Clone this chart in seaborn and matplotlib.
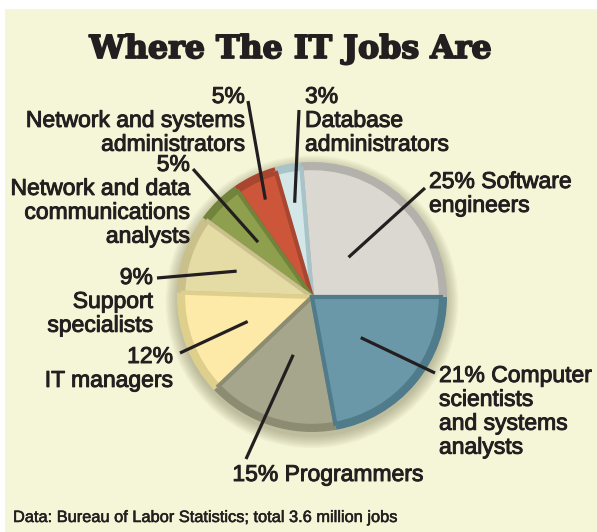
import numpy as np
import matplotlib.pyplot as plt
import matplotlib.patheffects as pe
from matplotlib.patches import Circle, Rectangle
import seaborn as sns

# shares of the 3.6 million IT jobs, counter-clockwise from 3 o'clock
jobs = ["Software engineers", "Database administrators",
        "Network and systems administrators",
        "Network and data communications analysts", "Support specialists",
        "IT managers", "Programmers", "Computer scientists and systems analysts"]
shares = [25, 3, 5, 5, 9, 12, 15, 21]
labels = ["25% Software\nengineers",
          "3%\nDatabase\nadministrators",
          "5%\nNetwork and systems\nadministrators",
          "5%\nNetwork and data\ncommunications\nanalysts",
          "9%\nSupport\nspecialists",
          "12%\nIT managers",
          "15% Programmers",
          "21% Computer\nscientists\nand systems\nanalysts"]
title = "Where The IT Jobs Are"
source = "Data: Bureau of Labor Statistics; total 3.6 million jobs"

face = ['#dbd8d1', '#d3e6e8', '#cd553a', '#8ea04e',
        '#e4dba5', '#fdeaa8', '#a5a68b', '#6b98a8']
edge = ['#b3b1ab', '#a9c4c8', '#a9462f', '#72843c',
        '#c9c08c', '#ded08c', '#8b8c72', '#4f7b8a']
bg = '#f5f6d7'
ink = '#231f20'

W, H = 597, 532
CX, CY, R = 312, 297, 135


def px(x, y):
    return (x - CX) / R, (CY - y) / R


# label layout (picture pixels): text anchor, alignment, leader start, leader depth
lab_xy = [(429, 170), (305, 85), (245, 85), (190, 153),
          (153, 266), (173, 345), (328, 463), (439, 364)]
lab_ha = ['left', 'left', 'right', 'right', 'right', 'right', 'center', 'left']
tip_xy = [(425, 188), (299, 110), (248, 101), (193, 169),
          (157, 278), (180, 353), (246, 459), (435, 373)]
tip_r = [0.40, 0.71, 0.80, 0.57, 0.59, 0.51, 0.45, 0.47]

sns.set_theme(style='white')
plt.rcParams['font.family'] = ['Liberation Sans', 'DejaVu Sans']

fig = plt.figure(figsize=(W / 100, H / 100), dpi=100)
fig.patch.set_facecolor('white')
fig.patches.append(Rectangle((5 / W, 0), 1, (H - 9) / H, transform=fig.transFigure,
                             facecolor=bg, edgecolor='none', zorder=-5))
ax = fig.add_axes([0, 0, 1, 1])
ax.set_facecolor('none')

# soft shadow under the pie
for k in range(8):
    ax.add_patch(Circle((0.0, -0.035), 1.0 + 0.012 * k, color='#5d5b3c',
                        alpha=0.05, lw=0, zorder=1))

rim, _ = ax.pie(shares, colors=edge, startangle=0, counterclock=True, radius=1.0,
                wedgeprops=dict(linewidth=0))
top, _ = ax.pie(shares, colors=face, startangle=0, counterclock=True, radius=0.955,
                wedgeprops=dict(linewidth=3))
for w in rim:
    w.set_zorder(2)
for w, c in zip(top, edge):
    w.set_edgecolor(c)
    w.set_zorder(3)

stroke = [pe.withStroke(linewidth=0.7, foreground=ink)]
for w, lab, xy, ha, tip, r in zip(top, labels, lab_xy, lab_ha, tip_xy, tip_r):
    mid = np.deg2rad((w.theta1 + w.theta2) / 2)
    x0, y0 = px(*tip)
    ax.plot([x0, r * np.cos(mid)], [y0, r * np.sin(mid)], color=ink, lw=2.3,
            solid_capstyle='butt', zorder=5)
    ax.text(*px(*xy), lab, ha=ha, va='top', fontsize=16.5, color=ink,
            linespacing=1.05, path_effects=stroke, zorder=6)

ax.text(*px(290, 58), title, ha='center', va='baseline', fontsize=22.8,
        fontfamily='DejaVu Serif', fontweight='bold', color=ink,
        path_effects=[pe.withStroke(linewidth=1.3, foreground=ink)])
ax.text(*px(13, 522), source, ha='left', va='baseline', fontsize=11.8,
        color=ink, path_effects=[pe.withStroke(linewidth=0.4, foreground=ink)])

ax.set_xlim(-CX / R, (W - CX) / R)
ax.set_ylim((CY - H) / R, CY / R)
ax.set_aspect('equal', adjustable='box')
ax.axis('off')

fig.savefig('out.png', dpi=100, facecolor=fig.get_facecolor())
